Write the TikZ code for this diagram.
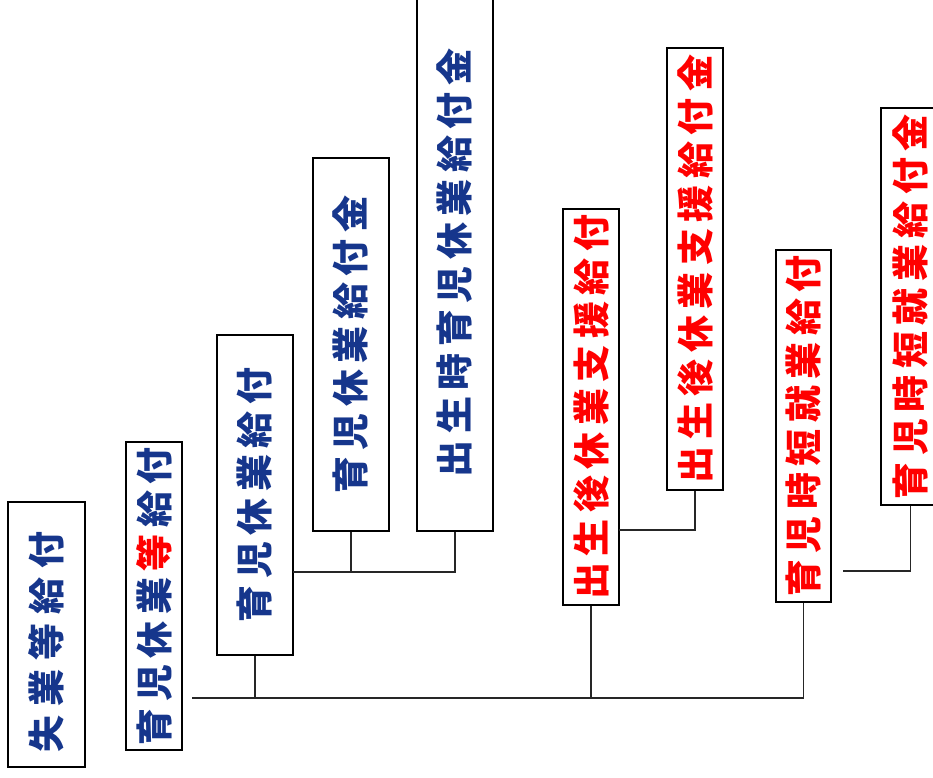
\documentclass[tikz,border=0pt]{standalone}
\usepackage{fontspec}
\newfontfamily\jp{Noto Sans CJK JP}
\definecolor{navy}{RGB}{22,54,140}
\definecolor{redtxt}{RGB}{255,0,0}
\newdimen\gapk \gapk=6.5pt
\def\spaced#1{\spacedfirst#1\relax}
\def\spacedfirst#1{#1\spacedrest}
\def\spacedrest#1{\ifx#1\relax\else\kern\gapk #1\expandafter\spacedrest\fi}
\tikzset{
  box/.style={draw=black, line width=1.6pt, fill=white, inner sep=0pt},
  txt/.style={rotate=90, inner sep=0pt, font=\jp\bfseries\fontsize{37}{37}\selectfont},
  conn/.style={draw=black!85, line width=1.1pt}
}
\begin{document}
\begin{tikzpicture}[x=1pt,y=-1pt]
\useasboundingbox (0,0) rectangle (933,777);
% boxes
\node[box, minimum width=77pt, minimum height=265pt] (b1) at (46.5,634.5) {};
\node[box, minimum width=56pt, minimum height=308pt] (b2) at (154,596) {};
\node[box, minimum width=76pt, minimum height=320pt] (b3) at (255,495) {};
\node[box, minimum width=76pt, minimum height=373pt] (b4) at (351,344.5) {};
\node[box, minimum width=76pt, minimum height=536pt] (b5) at (455,263) {};
\node[box, minimum width=56pt, minimum height=396pt] (b6) at (591,407) {};
\node[box, minimum width=56pt, minimum height=442pt] (b7) at (695,269) {};
\node[box, minimum width=55pt, minimum height=352pt] (b8) at (803.5,426) {};
\node[box, minimum width=59pt, minimum height=397pt] (b9) at (910.5,306.5) {};
% texts
\node[txt, text=navy] (t1) at (46.5,642) {\gapk=9pt\spaced{失業等給付}};
\node[txt, text=navy] (t2) at (b2) {\spaced{育児休業}\kern\gapk{\color{redtxt}等}\kern\gapk\spaced{給付}};
\node[txt, text=navy] (t3) at (b3) {\spaced{育児休業給付}};
\node[txt, text=navy] (t4) at (b4) {\spaced{育児休業給付金}};
\node[txt, text=navy] (t5) at (b5) {\spaced{出生時育児休業給付金}};
\node[txt, text=redtxt] (t6) at (b6) {\spaced{出生後休業支援給付}};
\node[txt, text=redtxt] (t7) at (b7) {\spaced{出生後休業支援給付金}};
\node[txt, text=redtxt] (t8) at (b8) {\spaced{育児時短就業給付}};
\node[txt, text=redtxt] (t9) at (b9) {\spaced{育児時短就業給付金}};
% connectors
\coordinate (m0) at (192,698);
\coordinate (k1) at (293,572);
\coordinate (k2) at (619,530);
\coordinate (k3) at (843,571);
\draw[conn] (m0) -- (b8.south |- m0) -- (b8.south);
\draw[conn] (b3.south) -- (b3.south |- m0);
\draw[conn] (b6.south) -- (b6.south |- m0);
\draw[conn] (k1) -- (b5.south |- k1) -- (b5.south);
\draw[conn] (b4.south) -- (b4.south |- k1);
\draw[conn] (k2) -- (b7.south |- k2) -- (b7.south);
\draw[conn] (k3) -- (b9.south |- k3) -- (b9.south);
\end{tikzpicture}
\end{document}
